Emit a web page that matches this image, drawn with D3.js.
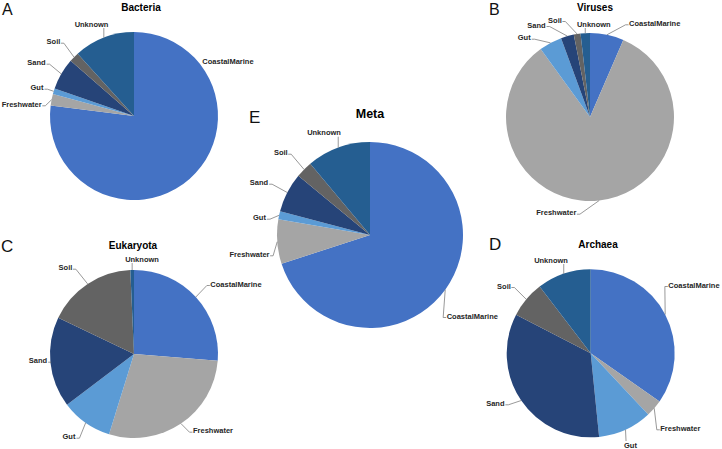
<!DOCTYPE html>
<html>
<head>
<meta charset="utf-8">
<script src="https://cdn.jsdelivr.net/npm/d3@7/dist/d3.min.js"></script>
<style>
html,body{margin:0;padding:0;background:#fff;}
svg{display:block;}
</style>
</head>
<body>
<svg id="chart" width="722" height="449"></svg>
<script>
// ---- data ----
const categories = ["CoastalMarine", "Freshwater", "Gut", "Sand", "Soil", "Unknown"];
const bacteria  = [77.0, 2.2, 1.1, 6.1, 1.9, 11.7];
const viruses   = [6.5, 83.6, 4.4, 2.5, 1.3, 1.8];
const eukaryota = [26.3, 28.5, 9.9, 17.4, 17.2, 0.7];
const archaea   = [34.7, 3.3, 10.4, 34.2, 7.0, 10.4];
const meta      = [70.0, 7.7, 1.4, 6.9, 2.9, 11.1];
const colors = ["#4472C4", "#A5A5A5", "#5B9BD5", "#264478", "#636363", "#255E91"];

// ---- layout ----
const panels = [
  {title: "Bacteria", letter: "A", values: bacteria, cx: 134, cy: 116, r: 84,
   tx: 141, ty: 7.5, tsize: 10, lx: 2, ly: 15, lsize: 16,
   labels: [[228, 61, false], [21.7, 104.3, true], [37, 87.7, true], [36.5, 62.7, true], [53.5, 41.7, true], [91.5, 24, true]]},
  {title: "Viruses", letter: "B", values: viruses, cx: 590, cy: 117, r: 84,
   tx: 595, ty: 7.5, tsize: 10, lx: 489, ly: 15, lsize: 16,
   labels: [[654.7, 23.3, true], [556.3, 212.7, true], [524.2, 37.7, true], [536.5, 25, true], [555, 20, true], [593.8, 24, true]]},
  {title: "Eukaryota", letter: "C", values: eukaryota, cx: 134, cy: 354, r: 84,
   tx: 133, ty: 245, tsize: 10, lx: 1, ly: 252, lsize: 17,
   labels: [[236, 284, true], [213, 430.7, true], [69, 436.7, true], [38, 360.7, true], [65.5, 267.7, true], [142, 259, true]]},
  {title: "Archaea", letter: "D", values: archaea, cx: 590.7, cy: 353.3, r: 84,
   tx: 598, ty: 244, tsize: 10, lx: 489, ly: 250, lsize: 17,
   labels: [[694, 285, true], [680.3, 428.3, true], [630.5, 445, true], [495.3, 403.3, true], [504, 286, true], [551, 260, true]]},
  {title: "Meta", letter: "E", values: meta, cx: 370, cy: 235, r: 93,
   tx: 370, ty: 114.3, tsize: 12.5, lx: 249, ly: 123, lsize: 17,
   labels: [[472.3, 316, true], [249.5, 254.3, true], [259.5, 217.7, true], [259, 182.7, true], [280.8, 152.7, true], [324, 132.7, true]]}
];

const svg = d3.select("#chart");
const pie = d3.pie().sort(null).value(d => d.value);
const color = d3.scaleOrdinal().domain(categories).range(colors);

panels.forEach(p => {
  const g = svg.append("g");
  const data = categories.map((c, i) => ({cat: c, value: p.values[i], i}));
  const arcs = pie(data);
  const arc = d3.arc().innerRadius(0).outerRadius(p.r);
  const edge = d3.arc().innerRadius(p.r).outerRadius(p.r);

  g.append("g").attr("transform", `translate(${p.cx},${p.cy})`)
    .selectAll("path").data(arcs).enter().append("path")
    .attr("d", arc)
    .attr("fill", d => color(d.data.cat));

  // title
  g.append("text").attr("x", p.tx).attr("y", p.ty)
    .attr("text-anchor", "middle").attr("dominant-baseline", "central")
    .attr("font-family", "Liberation Sans, Arial, sans-serif")
    .attr("font-weight", "bold").attr("font-size", p.tsize).attr("fill", "#000")
    .text(p.title);
  // panel letter
  g.append("text").attr("x", p.lx).attr("y", p.ly)
    .attr("font-family", "Liberation Sans, Arial, sans-serif")
    .attr("font-size", p.lsize).attr("fill", "#111")
    .text(p.letter);

  // labels and leaders
  arcs.forEach((a, i) => {
    const [x, y, lead] = p.labels[i];
    const t = g.append("text").attr("x", x).attr("y", y)
      .attr("text-anchor", "middle").attr("dominant-baseline", "central")
      .attr("font-family", "Liberation Sans, Arial, sans-serif")
      .attr("font-weight", "bold").attr("font-size", 7.5).attr("fill", "#262626")
      .text(a.data.cat);
    if (!lead) return;
    const b = t.node().getBBox();
    const c = edge.centroid(a);
    const px = p.cx + c[0], py = p.cy + c[1];
    let sx, sy, mx, my;
    if (px > b.x + b.width) { sx = b.x + b.width + 0.5; sy = y + 1.5; mx = sx + 3; my = sy; }
    else if (px < b.x) { sx = b.x - 0.5; sy = y + 1.5; mx = sx - 3; my = sy; }
    else if (py > b.y + b.height) { sx = Math.max(b.x + 2, Math.min(px, b.x + b.width - 2)); sy = b.y + b.height - 0.5; mx = sx; my = sy; }
    else { sx = Math.max(b.x + 2, Math.min(px, b.x + b.width - 2)); sy = b.y + 0.5; mx = sx; my = sy; }
    g.append("path")
      .attr("d", d3.line()([[sx, sy], [mx, my], [px, py]]))
      .attr("fill", "none").attr("stroke", "#7f7f7f").attr("stroke-width", 0.8);
  });
});
</script>
</body>
</html>
